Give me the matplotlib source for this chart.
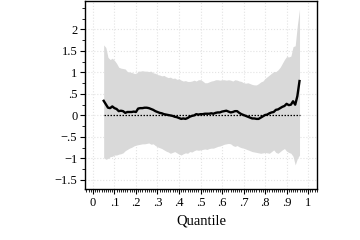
import numpy as np
import matplotlib
matplotlib.use("Agg")
import matplotlib.pyplot as plt
from matplotlib.ticker import MultipleLocator, FixedLocator

# quantile grid and estimates
quantiles = np.round(np.arange(5, 97) / 100, 2)

upper = [1.64, 1.58, 1.35, 1.30, 1.33, 1.28, 1.21, 1.12, 1.10, 1.09,
         1.08, 1.02, 1.01, 1.00, 0.98, 0.97, 1.03, 1.03, 1.04, 1.03,
         1.03, 1.02, 1.03, 0.99, 0.98, 0.95, 0.94, 0.92, 0.93, 0.90,
         0.88, 0.89, 0.86, 0.87, 0.84, 0.85, 0.82, 0.80, 0.81, 0.79,
         0.79, 0.80, 0.82, 0.80, 0.83, 0.83, 0.80, 0.76, 0.76, 0.78,
         0.80, 0.81, 0.83, 0.83, 0.82, 0.83, 0.83, 0.82, 0.83, 0.82,
         0.80, 0.83, 0.82, 0.80, 0.79, 0.76, 0.75, 0.76, 0.74, 0.72,
         0.71, 0.71, 0.74, 0.78, 0.80, 0.86, 0.90, 0.94, 0.98, 1.02,
         1.02, 1.06, 1.12, 1.21, 1.30, 1.37, 1.36, 1.38, 1.60, 1.62,
         2.10, 2.47]

lower = [-0.98, -1.02, -1.00, -0.96, -0.95, -0.92, -0.92, -0.90, -0.89, -0.87,
         -0.82, -0.79, -0.76, -0.74, -0.71, -0.69, -0.68, -0.67, -0.66, -0.66,
         -0.65, -0.64, -0.67, -0.66, -0.70, -0.73, -0.75, -0.77, -0.80, -0.83,
         -0.85, -0.88, -0.86, -0.84, -0.87, -0.90, -0.92, -0.89, -0.87, -0.88,
         -0.84, -0.85, -0.82, -0.80, -0.81, -0.80, -0.79, -0.78, -0.79, -0.77,
         -0.76, -0.76, -0.74, -0.72, -0.71, -0.69, -0.67, -0.66, -0.65, -0.66,
         -0.70, -0.72, -0.70, -0.73, -0.75, -0.76, -0.78, -0.80, -0.82, -0.84,
         -0.85, -0.86, -0.87, -0.88, -0.87, -0.86, -0.87, -0.88, -0.84, -0.80,
         -0.86, -0.88, -0.84, -0.80, -0.77, -0.83, -0.86, -0.88, -0.95, -1.15,
         -1.00, -0.92]

coef = [0.34, 0.26, 0.18, 0.17, 0.21, 0.17, 0.15, 0.10, 0.11, 0.10,
        0.06, 0.08, 0.08, 0.08, 0.09, 0.08, 0.16, 0.17, 0.17, 0.18,
        0.18, 0.17, 0.15, 0.13, 0.10, 0.08, 0.06, 0.05, 0.03, 0.02,
        0.01, 0.00, -0.01, -0.03, -0.04, -0.06, -0.08, -0.07, -0.08, -0.06,
        -0.03, -0.01, 0.00, 0.03, 0.02, 0.03, 0.03, 0.04, 0.04, 0.04,
        0.05, 0.04, 0.06, 0.07, 0.07, 0.09, 0.10, 0.11, 0.09, 0.07,
        0.08, 0.10, 0.10, 0.06, 0.03, 0.01, -0.01, -0.03, -0.05, -0.07,
        -0.07, -0.08, -0.08, -0.05, -0.02, 0.01, 0.02, 0.05, 0.07, 0.08,
        0.13, 0.14, 0.17, 0.20, 0.22, 0.27, 0.24, 0.25, 0.33, 0.25,
        0.45, 0.80]

xticks = [0, .1, .2, .3, .4, .5, .6, .7, .8, .9, 1]
xlabels = ["0", ".1", ".2", ".3", ".4", ".5", ".6", ".7", ".8", ".9", "1"]
yticks = [-1.5, -1, -.5, 0, .5, 1, 1.5, 2]
ylabels = ["\u22121.5", "\u22121", "\u2212.5", "0", ".5", "1", "1.5", "2"]

plt.rcParams['font.family'] = ['Liberation Serif', 'DejaVu Serif']

fig = plt.figure(figsize=(3.6, 2.4), dpi=100)
ax = fig.add_axes([0.236, 0.2125, 0.645, 0.785])

ax.fill_between(quantiles, lower, upper, color="#d9d9d9", linewidth=0, zorder=2)
ax.plot(quantiles, np.zeros(len(quantiles)), color="black", linestyle=(0, (1.2, 1.2)),
        linewidth=0.9, zorder=3)
ax.plot(quantiles, coef, color="black", linewidth=1.7, zorder=4)

ax.set_xlim(-0.037, 1.042)
ax.set_ylim(-1.71, 2.67)

ax.set_xticks(xticks)
ax.set_xticklabels(xlabels)
ax.xaxis.set_minor_locator(MultipleLocator(0.01))
ax.set_yticks(yticks)
ax.set_yticklabels(ylabels)
ax.yaxis.set_minor_locator(FixedLocator(np.arange(-1.5, 2.51, 0.25)))

ax.tick_params(axis="both", which="major", direction="out", length=3.5, width=0.8,
               labelsize=9, pad=2)
ax.tick_params(axis="both", which="minor", direction="out", length=2, width=0.6)

ax.grid(True, which="major", color="#e3e3e3", linestyle=":", linewidth=0.8, zorder=0)
ax.set_axisbelow(True)

for s in ax.spines.values():
    s.set_linewidth(1.0)
    s.set_color("black")

ax.set_xlabel("Quantile", fontsize=10.5, labelpad=4)

fig.savefig("out.png", dpi=100)
